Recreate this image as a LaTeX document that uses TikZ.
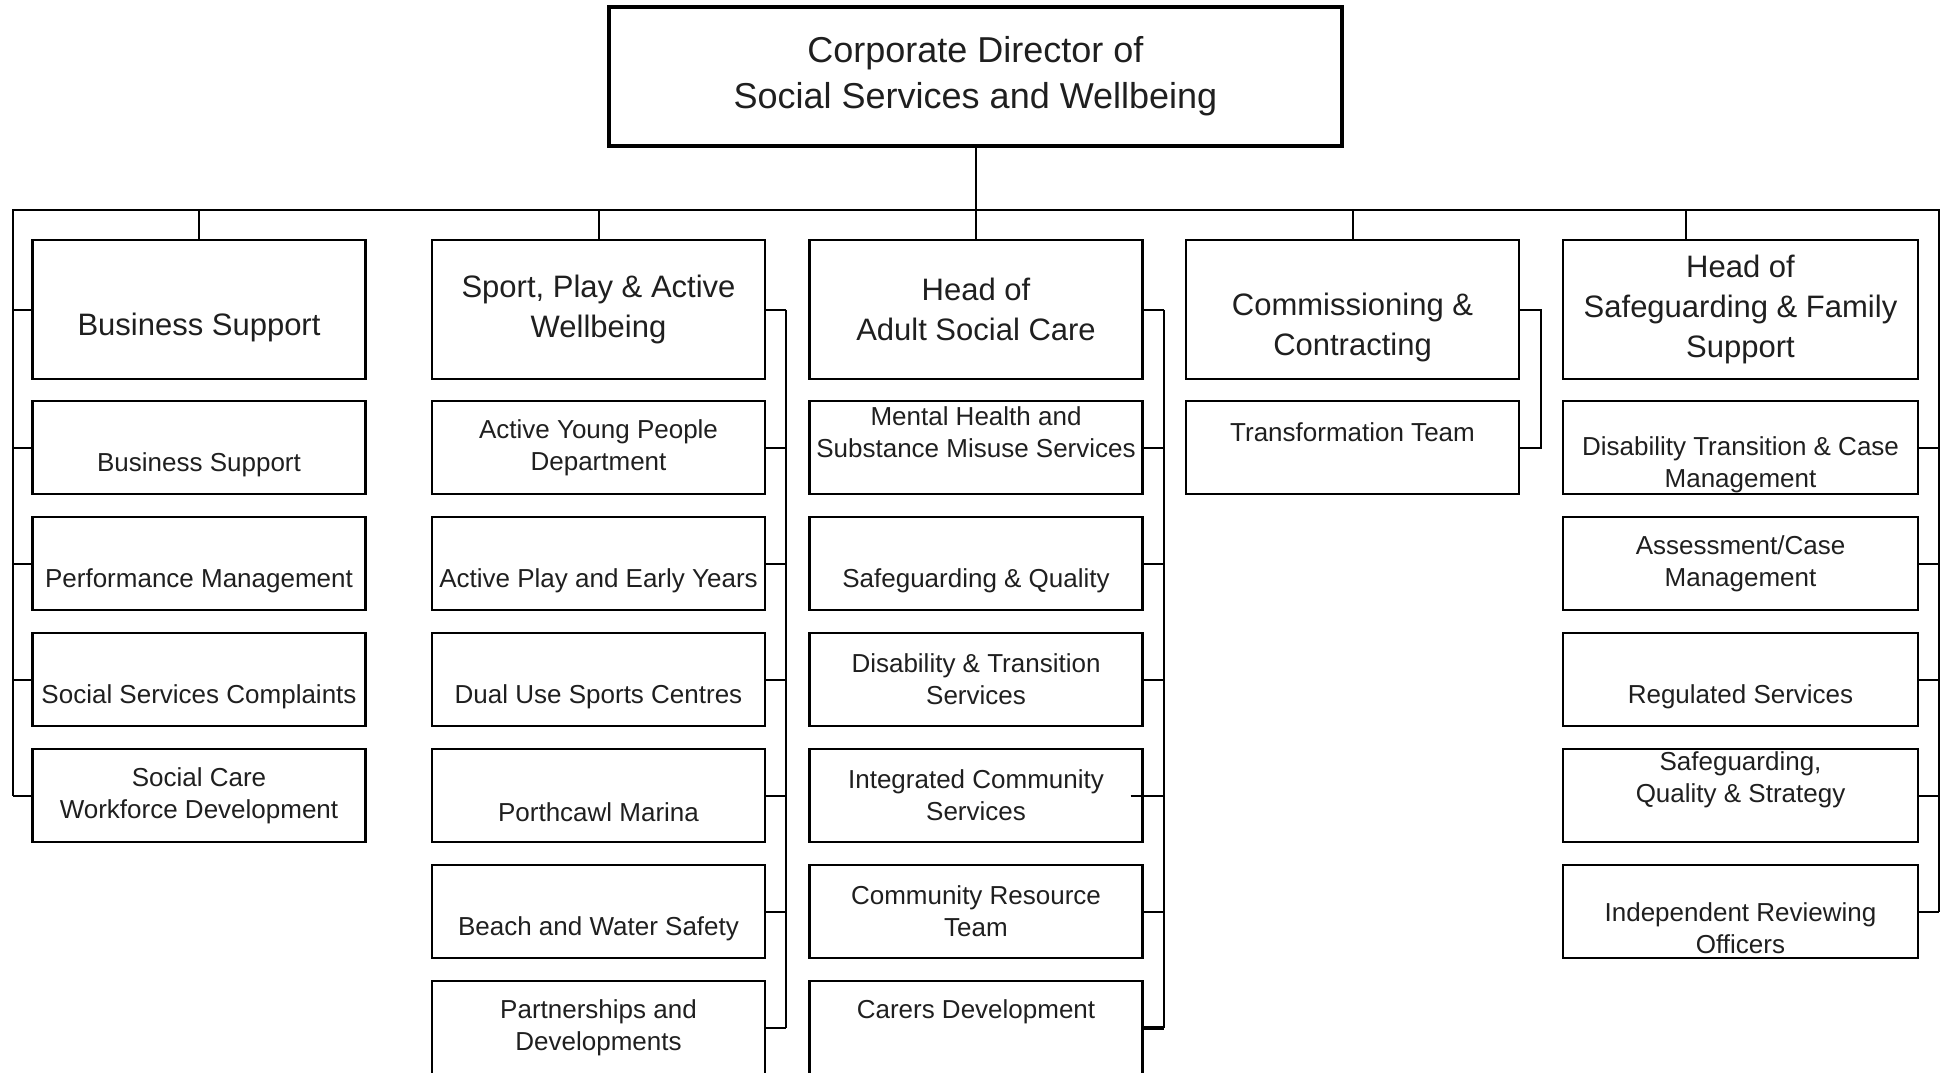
\documentclass[tikz,border=0pt]{standalone}
\usepackage{fontspec}
\setmainfont{Liberation Sans}
\tikzset{
    post/.style={
        draw, line width=1.2pt, inner sep=0pt,
        minimum width=166.5pt, minimum height=46.5pt
    },
    head post/.style={post, minimum height=69.5pt},
    wide post/.style={minimum width=177.5pt},
    head text/.style={font=\fontsize{15.5}{20}\selectfont, align=center, inner sep=0pt, text=black!88},
    post text/.style={font=\fontsize{13}{16}\selectfont, align=center, inner sep=0pt, text=black!88},
    drop/.style={yshift=-8.5pt},
    lift/.style={yshift=7.75pt},
    link/.style={line width=1pt}
}

\begin{document}
\begin{tikzpicture}[x=0.5pt, y=-0.5pt]
    \useasboundingbox (0,0) rectangle (1943,1072);
    \coordinate (busL) at (13,210);
    \coordinate (busR) at (1939,210);
    \coordinate (spR) at (786,0);
    \coordinate (ascR) at (1164,0);
    \coordinate (ccR) at (1541,0);

    \node[draw, line width=2pt, inner sep=0pt, minimum width=366.5pt, minimum height=69.5pt,
        font=\fontsize{18}{23}\selectfont, align=center, text=black!88] (dir) at (975.5,76.5)
        {Corporate Director of\\Social Services and Wellbeing};

    % business support column
    \node[head post] (bs0) at (199,309.5) {};
    \node[post] (bs1) at (199,447.5) {};
    \node[post] (bs2) at (199,563.5) {};
    \node[post] (bs3) at (199,679.5) {};
    \node[post] (bs4) at (199,795.5) {};
    \node[head text, yshift=-9pt] (bs0-t) at (bs0) {Business Support};
    \node[post text, drop] (bs1-t) at (bs1) {Business Support};
    \node[post text, drop] (bs2-t) at (bs2) {Performance Management};
    \node[post text, drop] (bs3-t) at (bs3) {Social Services Complaints};
    \node[post text] (bs4-t) at (bs4) {Social Care\\Workforce Development};

    % sport, play & active wellbeing column
    \node[head post] (sp0) at (598.5,309.5) {};
    \node[post] (sp1) at (598.5,447.5) {};
    \node[post] (sp2) at (598.5,563.5) {};
    \node[post] (sp3) at (598.5,679.5) {};
    \node[post] (sp4) at (598.5,795.5) {};
    \node[post] (sp5) at (598.5,911.5) {};
    \node[post] (sp6) at (598.5,1027.5) {};
    \node[head text] (sp0-t) at (sp0) {Sport, Play \& Active\\Wellbeing};
    \node[post text] (sp1-t) at (sp1) {Active Young People\\Department};
    \node[post text, drop] (sp2-t) at (sp2) {Active Play and Early Years};
    \node[post text, drop] (sp3-t) at (sp3) {Dual Use Sports Centres};
    \node[post text, drop] (sp4-t) at (sp4) {Porthcawl Marina};
    \node[post text, drop] (sp5-t) at (sp5) {Beach and Water Safety};
    \node[post text] (sp6-t) at (sp6) {Partnerships and\\Developments};

    % adult social care column
    \node[head post] (asc0) at (976,309.5) {};
    \node[post] (asc1) at (976,447.5) {};
    \node[post] (asc2) at (976,563.5) {};
    \node[post] (asc3) at (976,679.5) {};
    \node[post] (asc4) at (976,795.5) {};
    \node[post] (asc5) at (976,911.5) {};
    \node[post] (asc6) at (976,1027.5) {};
    \node[head text] (asc0-t) at (asc0) {Head of\\Adult Social Care};
    \node[post text, lift] (asc1-t) at (asc1) {Mental Health and\\Substance Misuse Services};
    \node[post text, drop] (asc2-t) at (asc2) {Safeguarding \& Quality};
    \node[post text] (asc3-t) at (asc3) {Disability \& Transition\\Services};
    \node[post text] (asc4-t) at (asc4) {Integrated Community\\Services};
    \node[post text] (asc5-t) at (asc5) {Community Resource\\Team};
    \node[post text, lift] (asc6-t) at (asc6) {Carers Development};

    % commissioning column
    \node[head post] (cc0) at (1352.5,309.5) {};
    \node[post] (cc1) at (1352.5,447.5) {};
    \node[head text, yshift=-9pt] (cc0-t) at (cc0) {Commissioning \&\\Contracting};
    \node[post text, lift] (cc1-t) at (cc1) {Transformation Team};

    % safeguarding & family support column
    \node[head post, wide post] (sf0) at (1740.5,309.5) {};
    \node[post, wide post] (sf1) at (1740.5,447.5) {};
    \node[post, wide post] (sf2) at (1740.5,563.5) {};
    \node[post, wide post] (sf3) at (1740.5,679.5) {};
    \node[post, wide post] (sf4) at (1740.5,795.5) {};
    \node[post, wide post] (sf5) at (1740.5,911.5) {};
    \node[head text] (sf0-t) at (sf0) {Head of\\Safeguarding \& Family\\Support};
    \node[post text, drop] (sf1-t) at (sf1) {Disability Transition \& Case\\Management};
    \node[post text] (sf2-t) at (sf2) {Assessment/Case\\Management};
    \node[post text, drop] (sf3-t) at (sf3) {Regulated Services};
    \node[post text, lift] (sf4-t) at (sf4) {Safeguarding,\\Quality \& Strategy};
    \node[post text, drop] (sf5-t) at (sf5) {Independent Reviewing\\Officers};

    % bus with the two outer rails
    \draw[link] (dir.south) -- (dir.south |- busL);
    \draw[link] (bs4.west -| busL) -- (busL) -- (busR) -- (busR |- sf5.east);
    \coordinate (sfStem) at ([xshift=-27.25pt]sf0.north);
    \draw[link] (sfStem) -- (sfStem |- busL);
    \foreach \p in {bs0,sp0,asc0,cc0}
        \draw[link] (\p.north) -- (\p.north |- busL);
    \foreach \p in {bs0,bs1,bs2,bs3,bs4}
        \draw[link] (\p.west) -- (\p.west -| busL);
    \foreach \p in {sf1,sf2,sf3,sf4,sf5}
        \draw[link] (\p.east) -- (\p.east -| busR);

    % inner rails
    \draw[link] (sp0.east -| spR) -- (sp6.east -| spR);
    \foreach \p in {sp0,sp1,sp2,sp3,sp4,sp5,sp6}
        \draw[link] (\p.east) -- (\p.east -| spR);
    \draw[link] (asc0.east -| ascR) -- (asc6.east -| ascR);
    \foreach \p in {asc0,asc1,asc2,asc3,asc5}
        \draw[link] (\p.east) -- (\p.east -| ascR);
    \draw[link] ([xshift=-6.5pt]asc4.east) -- (asc4.east -| ascR);
    \draw[line width=2pt] (asc6.east) -- (asc6.east -| ascR);
    \draw[link] (cc0.east) -| (ccR |- cc1.east) -- (cc1.east);
\end{tikzpicture}
\end{document}
